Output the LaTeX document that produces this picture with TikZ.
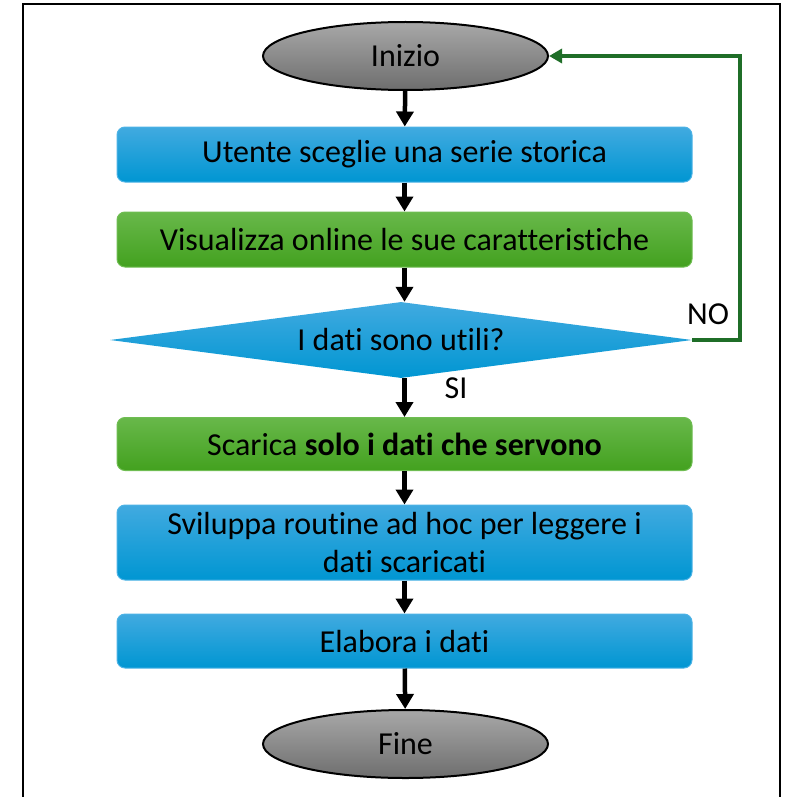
\documentclass[tikz,border=0pt]{standalone}
\usepackage{fontspec}
\setmainfont{Carlito}[Ligatures=NoCommon]
\usetikzlibrary{shapes.geometric,arrows.meta}
\definecolor{bluetop}{HTML}{41AAE0}
\definecolor{bluebot}{HTML}{0096D2}
\definecolor{blueedge}{HTML}{4DB3E6}
\definecolor{greentop}{HTML}{68B84A}
\definecolor{greenbot}{HTML}{43A11F}
\definecolor{greenedge}{HTML}{6FBD52}
\definecolor{greytop}{HTML}{A8A8A8}
\definecolor{greybot}{HTML}{6E6E6E}
\definecolor{loopgreen}{HTML}{1F6E28}
\tikzset{
  txt/.style={font=\fontsize{32}{38}\selectfont, text=black},
  bluebox/.style={txt, rectangle, rounded corners=8pt, top color=bluetop, bottom color=bluebot, draw=blueedge, line width=1pt, minimum width=575pt, inner sep=0pt, align=center},
  greenbox/.style={txt, rectangle, rounded corners=8pt, top color=greentop, bottom color=greenbot, draw=greenedge, line width=1pt, minimum width=575pt, inner sep=0pt, align=center},
  term/.style={txt, ellipse, top color=greytop, bottom color=greybot, draw=black, line width=2pt, minimum width=285pt, minimum height=68pt, inner sep=0pt},
  decision/.style={txt, diamond, aspect=7.66, top color=bluetop, bottom color=bluebot, minimum width=582pt, minimum height=76pt, inner sep=0pt},
  flow/.style={line width=4.5pt, -{Triangle[width=17pt,length=15pt]}},
  back/.style={draw=loopgreen, line width=3.5pt, -{Triangle[width=14pt,length=13pt]}, color=loopgreen},
  lbl/.style={txt, inner sep=0pt},
  frame/.style={line width=2pt, black}
}
\begin{document}
\begin{tikzpicture}[x=1pt,y=-1pt]
\useasboundingbox (0,0) rectangle (789,797);
\draw[frame] (23,800) -- (23,4) -- (780,4) -- (780,800);

\node[term] (start) at (405.5,56) {Inizio};
\node[bluebox, minimum height=55pt] (b1) at (404.5,154.5) {Utente sceglie una serie storica};
\node[greenbox, minimum height=55pt] (b2) at (404.5,239.5) {Visualizza online le sue caratteristiche};
\node[decision] (dec) at (401,340) {I dati sono utili?};
\node[greenbox, minimum height=53pt] (b3) at (404.5,444) {Scarica \textbf{solo i dati che servono}};
\node[bluebox, minimum height=75pt] (b4) at (404.5,542.5) {Sviluppa routine ad hoc per leggere i\\dati scaricati};
\node[bluebox, minimum height=54pt] (b5) at (404.5,641) {Elabora i dati};
\node[term] (end) at (405.5,744) {Fine};

\node[lbl] (no) at (708,314) {NO};
\node[lbl] (si) at (456,388) {SI};

\coordinate (lp) at (740,56);

\draw[flow] (start) -- (b1);
\draw[flow] (b1) -- (b2);
\draw[flow] (b2) -- (dec.north -| b2.south);
\draw[flow] (dec.south -| b2.south) -- (b3);
\draw[flow] (b3) -- (b4);
\draw[flow] (b4) -- (b5);
\draw[flow] (b5) -- (end);
\draw[back] (dec.east) -| (lp) -- (start.east);
\end{tikzpicture}
\end{document}
